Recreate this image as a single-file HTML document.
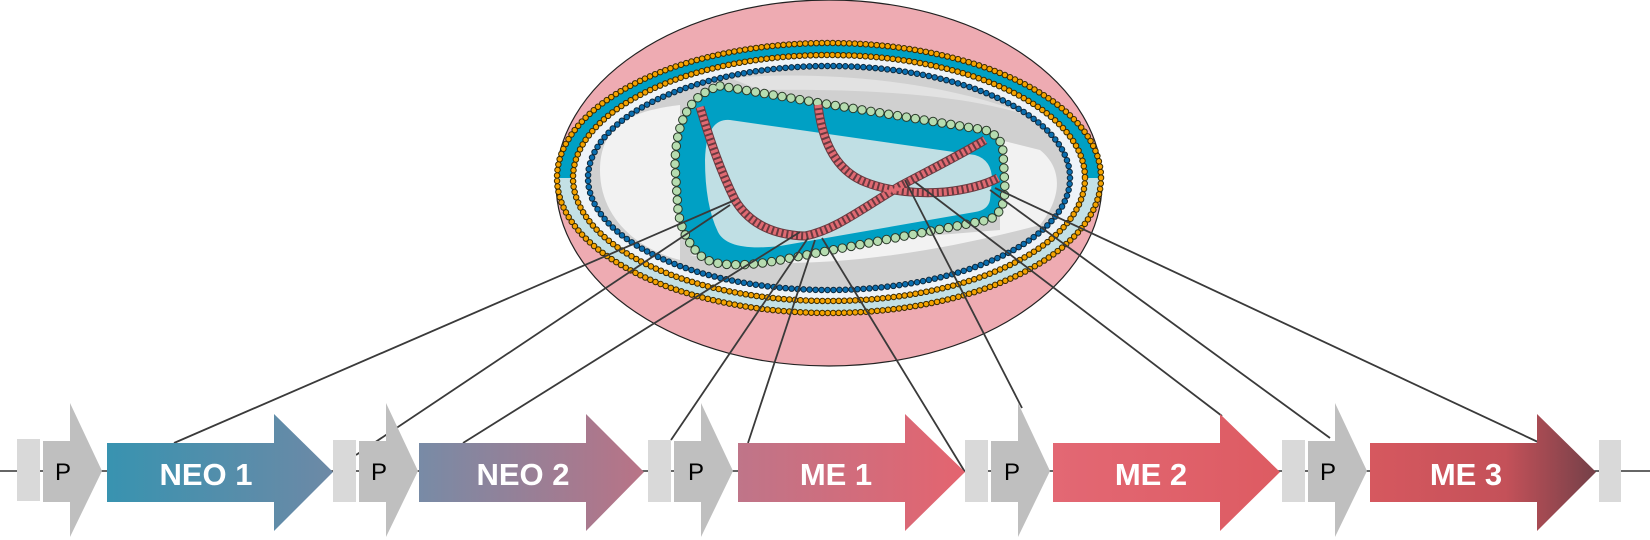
<!DOCTYPE html>
<html><head><meta charset="utf-8"><style>
html,body{margin:0;padding:0;background:#fff;}
svg{display:block;}
.p{font-family:"Liberation Sans",sans-serif;font-size:24px;fill:#000;text-anchor:middle;}
.g{font-family:"Liberation Sans",sans-serif;font-size:31px;font-weight:bold;fill:#fff;text-anchor:middle;}
</style></head><body>
<svg width="1650" height="540" viewBox="0 0 1650 540" xmlns="http://www.w3.org/2000/svg">
<defs>
<linearGradient id="g1" x1="0" x2="1"><stop offset="0" stop-color="#3893b0"/><stop offset="1" stop-color="#6d89a6"/></linearGradient>
<linearGradient id="g2" x1="0" x2="1"><stop offset="0" stop-color="#788ba6"/><stop offset="1" stop-color="#b97386"/></linearGradient>
<linearGradient id="g3" x1="0" x2="1"><stop offset="0" stop-color="#bf7589"/><stop offset="1" stop-color="#e4646f"/></linearGradient>
<linearGradient id="g4" x1="0" x2="1"><stop offset="0" stop-color="#e36874"/><stop offset="1" stop-color="#dd5b62"/></linearGradient>
<linearGradient id="g5" x1="0" x2="1"><stop offset="0" stop-color="#d6585f"/><stop offset="0.6" stop-color="#c45159"/><stop offset="1" stop-color="#744048"/></linearGradient>
<clipPath id="top"><rect x="0" y="0" width="1650" height="178"/></clipPath>
<clipPath id="bot"><rect x="0" y="178" width="1650" height="400"/></clipPath>
</defs>

<line x1="0" y1="471" x2="1650" y2="471" stroke="#333" stroke-width="1.5"/>

<ellipse cx="829" cy="183" rx="273" ry="183" fill="#eeabb2" stroke="#222" stroke-width="1.2"/>
<ellipse cx="829" cy="178" rx="272" ry="135" fill="#00a0c4" clip-path="url(#top)"/>
<ellipse cx="829" cy="178" rx="272" ry="135" fill="#c3e0e5" clip-path="url(#bot)"/>
<ellipse cx="829" cy="178" rx="256" ry="123" fill="#eef3f8"/>
<ellipse cx="829" cy="178" rx="241" ry="112" fill="#d0d0d0"/>
<path d="M600,170 C600,120 640,110 680,105 L680,260 C640,250 600,220 600,170Z" fill="#f2f2f2"/>
<path d="M690,255 C780,272 900,262 1040,225 C1060,200 1065,170 1040,150 L1000,140 L1000,230 Z" fill="#f2f2f2"/>
<path d="M730,78 C820,70 950,80 1040,120 C990,100 900,88 760,90Z" fill="#e2e2e2"/>
<ellipse cx="829" cy="178" rx="272" ry="135" fill="none" stroke="#3a2a00" stroke-width="6.5" stroke-dasharray="0 5.5" stroke-linecap="round"/>
<ellipse cx="829" cy="178" rx="272" ry="135" fill="none" stroke="#f5a300" stroke-width="4.5" stroke-dasharray="0 5.5" stroke-linecap="round"/>
<ellipse cx="829" cy="178" rx="256" ry="123" fill="none" stroke="#3a2a00" stroke-width="6.5" stroke-dasharray="0 5.5" stroke-linecap="round"/>
<ellipse cx="829" cy="178" rx="256" ry="123" fill="none" stroke="#f5a300" stroke-width="4.5" stroke-dasharray="0 5.5" stroke-linecap="round"/>
<ellipse cx="829" cy="178" rx="241" ry="112" fill="none" stroke="#0d2a40" stroke-width="6.5" stroke-dasharray="0 6" stroke-linecap="round"/>
<ellipse cx="829" cy="178" rx="241" ry="112" fill="none" stroke="#0a6fb0" stroke-width="4.5" stroke-dasharray="0 6" stroke-linecap="round"/>

<path d="M720,86 L820,103 L985,130 Q1002,136 1003,152 L1005,190 Q1004,214 988,220 L770,262 Q715,270 700,255 Q682,238 678,210 L675,165 Q676,98 720,86Z" fill="#00a0c4"/>
<path d="M730,120 L975,155 Q992,160 992,180 L990,200 Q988,210 975,212 L780,246 Q728,252 718,232 Q705,205 705,160 Q706,118 730,120Z" fill="#c0dfe4"/>
<path d="M720,86 L820,103 L985,130 Q1002,136 1003,152 L1005,190 Q1004,214 988,220 L770,262 Q715,270 700,255 Q682,238 678,210 L675,165 Q676,98 720,86Z" fill="none" stroke="#2a3a2a" stroke-width="9.5" stroke-dasharray="0 9" stroke-linecap="round"/>
<path d="M720,86 L820,103 L985,130 Q1002,136 1003,152 L1005,190 Q1004,214 988,220 L770,262 Q715,270 700,255 Q682,238 678,210 L675,165 Q676,98 720,86Z" fill="none" stroke="#b6dcb0" stroke-width="7.5" stroke-dasharray="0 9" stroke-linecap="round"/>

<g fill="none">
<path d="M700,107 C710,140 720,170 735,200 C750,225 775,235 805,236 C835,230 860,210 900,186 C930,170 960,155 985,140" stroke="#6a3a40" stroke-width="9"/>
<path d="M818,105 C822,140 835,170 865,182 C890,192 920,194 945,192 C965,190 985,185 998,178" stroke="#6a3a40" stroke-width="9"/>
<path d="M700,107 C710,140 720,170 735,200 C750,225 775,235 805,236 C835,230 860,210 900,186 C930,170 960,155 985,140" stroke="#e06a72" stroke-width="7" stroke-dasharray="3 2"/>
<path d="M818,105 C822,140 835,170 865,182 C890,192 920,194 945,192 C965,190 985,185 998,178" stroke="#e06a72" stroke-width="7" stroke-dasharray="3 2"/>
</g>

<g stroke="#3a3a3a" stroke-width="1.8">
<line x1="735" y1="200" x2="174" y2="443"/>
<line x1="730" y1="205" x2="356" y2="455"/>
<line x1="800" y1="232" x2="463" y2="443"/>
<line x1="808" y1="238" x2="671" y2="440"/>
<line x1="815" y1="240" x2="748" y2="443"/>
<line x1="822" y1="238" x2="965" y2="472"/>
<line x1="905" y1="180" x2="1022" y2="408"/>
<line x1="915" y1="182" x2="1222" y2="416"/>
<line x1="990" y1="190" x2="1330" y2="438"/>
<line x1="995" y1="188" x2="1538" y2="442"/>
</g>

<g fill="#d9d9d9">
<rect x="17" y="439" width="23" height="62"/>
<rect x="333" y="440" width="23" height="62"/>
<rect x="648" y="440" width="23" height="62"/>
<rect x="965" y="440" width="23" height="62"/>
<rect x="1282" y="440" width="23" height="62"/>
<rect x="1599" y="440" width="22" height="62"/>
</g>
<g fill="#bfbfbf">
<polygon points="43,441 70,441 70,403 102,471 70,537 70,502 43,502"/>
<polygon points="359,441 386,441 386,403 418,471 386,537 386,502 359,502"/>
<polygon points="674,441 701,441 701,403 733,471 701,537 701,502 674,502"/>
<polygon points="991,441 1018,441 1018,403 1050,471 1018,537 1018,502 991,502"/>
<polygon points="1308,441 1335,441 1335,403 1367,471 1335,537 1335,502 1308,502"/>
</g>
<text class="p" x="63" y="480">P</text>
<text class="p" x="379" y="480">P</text>
<text class="p" x="696" y="480">P</text>
<text class="p" x="1012" y="480">P</text>
<text class="p" x="1328" y="480">P</text>

<polygon points="107,443 274,443 274,414 333,472 274,531 274,502 107,502" fill="url(#g1)"/>
<polygon points="419,443 586,443 586,414 644,472 586,531 586,502 419,502" fill="url(#g2)"/>
<polygon points="738,443 905,443 905,414 965,472 905,531 905,502 738,502" fill="url(#g3)"/>
<polygon points="1053,443 1220,443 1220,414 1280,472 1220,531 1220,502 1053,502" fill="url(#g4)"/>
<polygon points="1370,443 1537,443 1537,414 1596,472 1537,531 1537,502 1370,502" fill="url(#g5)"/>
<text class="g" x="206" y="485">NEO 1</text>
<text class="g" x="523" y="485">NEO 2</text>
<text class="g" x="836" y="485">ME 1</text>
<text class="g" x="1151" y="485">ME 2</text>
<text class="g" x="1466" y="485">ME 3</text>
</svg>
</body></html>
